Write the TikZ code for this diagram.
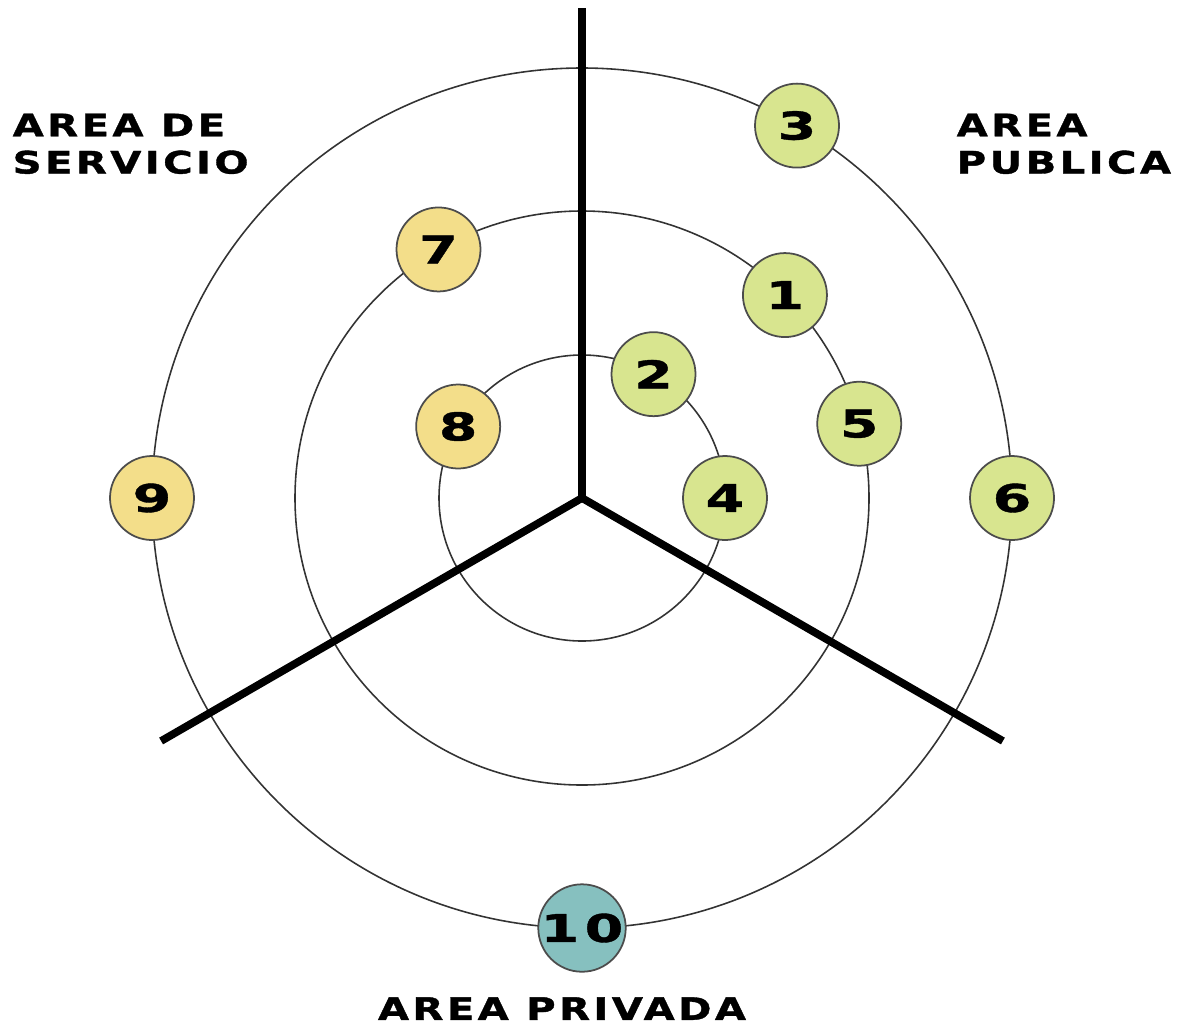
\documentclass[tikz,border=0pt]{standalone}
\usepackage{fontspec}
\usepackage{xcolor}
\usepackage{tikz}
\usetikzlibrary{positioning}

\newfontfamily\widefont[FakeStretch=1.3,LetterSpace=11,FakeBold=1.2]{DejaVu Sans}
\newfontfamily\digitfont[FakeStretch=1.45,LetterSpace=14,FakeBold=1]{DejaVu Sans}

\definecolor{pubgreen}{RGB}{216,229,143}
\definecolor{servyellow}{RGB}{243,222,138}
\definecolor{privteal}{RGB}{134,192,191}

\begin{document}
\begin{tikzpicture}[
    ring/.style={draw=black!80, line width=0.45pt},
    axis/.style={line width=2.2pt, black},
    space/.style={circle, draw=black!70, line width=0.5pt, minimum size=0.84cm, inner sep=0pt, font=\digitfont\fontsize{10.9}{12}\selectfont\bfseries},
    pub/.style={space, fill=pubgreen},
    serv/.style={space, fill=servyellow},
    priv/.style={space, fill=privteal},
    area/.style={inner sep=0pt, align=left, font=\widefont\fontsize{8.8}{10.6}\selectfont\bfseries}
]
    \useasboundingbox (-5.82,-5.32) rectangle (5.97,4.98);

    % rings
    \draw[ring] (0,0) circle (1.43);
    \draw[ring] (0,0) circle (2.87);
    \draw[ring] (0,0) circle (4.30);

    % zone dividers
    \coordinate (O) at (0,0);
    \coordinate (up) at (90:4.90);
    \coordinate (dl) at (210:4.86);
    \coordinate (dr) at (330:4.86);
    \draw[axis] (O) -- (up);
    \draw[axis] (O) -- (dl);
    \draw[axis] (O) -- (dr);

    % public area
    \node[pub] (n1) at (45:2.87) {1};
    \node[pub] (n2) at (60:1.43) {2};
    \node[pub] (n3) at (60:4.30) {3};
    \node[pub] (n4) at (0:1.43) {4};
    \node[pub] (n5) at (15:2.87) {5};
    \node[pub] (n6) at (0:4.30) {6};

    % service area
    \node[serv] (n7) at (120:2.87) {7};
    \node[serv] (n8) at (150:1.43) {8};
    \node[serv] (n9) at (180:4.30) {9};

    % private area
    \node[priv] (n10) at (270:4.30) {10};

    \node[area, anchor=north west] (servicio) at (-5.70,3.85) {AREA DE\\SERVICIO};
    \node[area, anchor=north west] (publica) at (3.74,3.85) {AREA\\PUBLICA};
    \node[area, below=0.24cm of n10, xshift=-0.2cm] (privada) {AREA PRIVADA};
\end{tikzpicture}
\end{document}
